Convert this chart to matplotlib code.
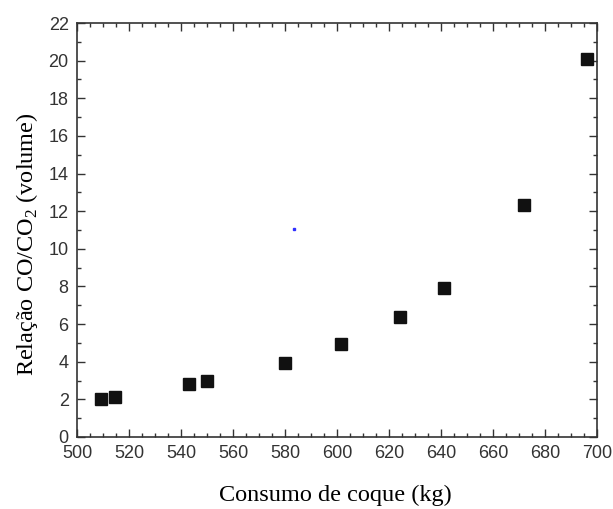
import matplotlib
matplotlib.use('Agg')
import matplotlib.pyplot as plt
from matplotlib.ticker import MultipleLocator

# consumo de coque (kg) x relacao CO/CO2
coque = [509.2, 514.6, 543.1, 550.0, 580.0, 601.5, 624.2, 641.2, 671.9, 696.2]
relacao = [2.0, 2.1, 2.8, 2.95, 3.95, 4.95, 6.4, 7.9, 12.35, 20.1]
# ponto azul isolado
ponto_x = [583.5]
ponto_y = [11.05]

plt.rcParams['mathtext.fontset'] = 'custom'
plt.rcParams['mathtext.rm'] = 'Liberation Serif'

fig = plt.figure(figsize=(6.13, 5.09), dpi=100)
ax = fig.add_axes([0.1256, 0.1415, 0.8484, 0.8133])

ax.plot(coque, relacao, 's', color='#111111', markersize=8, linestyle='none')
ax.plot(ponto_x, ponto_y, 's', color='#3030ff', markersize=1.5, linestyle='none')

ax.set_xlim(500, 700)
ax.set_ylim(0, 22)
ax.xaxis.set_major_locator(MultipleLocator(20))
ax.xaxis.set_minor_locator(MultipleLocator(5))
ax.yaxis.set_major_locator(MultipleLocator(2))
ax.yaxis.set_minor_locator(MultipleLocator(1))
ax.tick_params(which='both', direction='in', top=True, right=True, width=1.0, color='#333333')
ax.tick_params(which='major', length=6, labelsize=13, pad=6, labelcolor='#333333')
ax.tick_params(which='minor', length=3)
for lab in ax.get_xticklabels() + ax.get_yticklabels():
    lab.set_fontfamily('Liberation Sans')
for sp in ax.spines.values():
    sp.set_linewidth(1.2)
    sp.set_color('#333333')

ax.set_xlabel('Consumo de coque (kg)', fontfamily='Liberation Serif', fontsize=17.5)
ax.set_ylabel('Relação CO/CO$_2$ (volume)', fontfamily='Liberation Serif', fontsize=17.5)
ax.xaxis.set_label_coords(0.497, -0.115)
ax.yaxis.set_label_coords(-0.072, 0.465)

fig.savefig('out.png', dpi=100)
